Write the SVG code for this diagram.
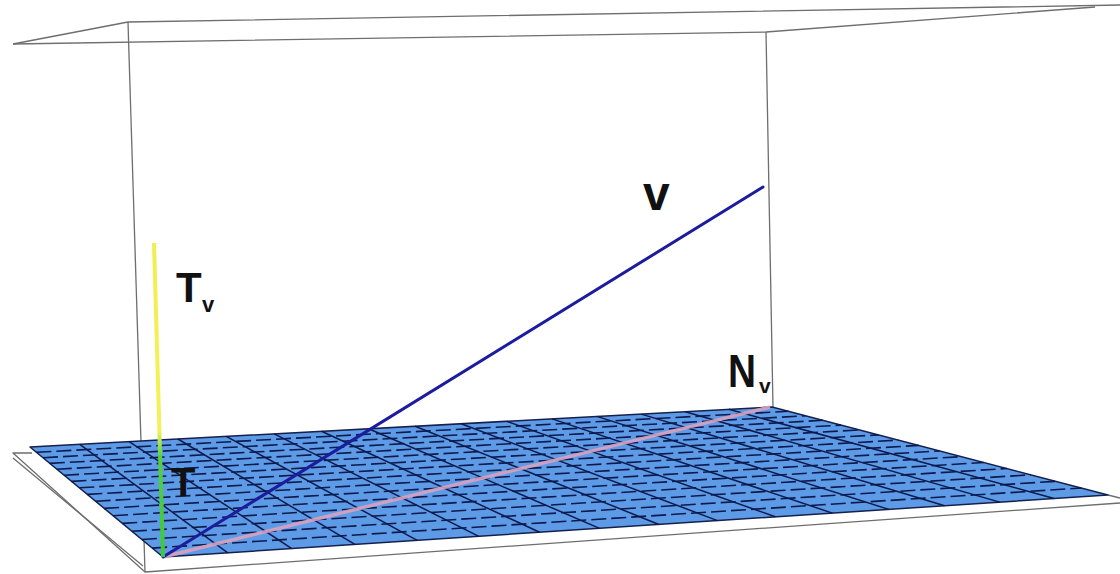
<svg xmlns="http://www.w3.org/2000/svg" width="1120" height="574" viewBox="0 0 1120 574">
<style>
.frame{fill:none;stroke:#6e6e6e;stroke-width:1.3;stroke-linejoin:round}
.pl{fill:#5d9be6;stroke:#14204e;stroke-width:1.5;stroke-linejoin:round}
.mu{stroke:#0c1a4e;stroke-width:1.5;fill:none}
.mv{stroke:#0c1a4e;stroke-width:1.6;fill:none;stroke-dasharray:15 5}
.lbl{font-family:"Liberation Sans",Arial,sans-serif;font-weight:bold;fill:#111}
</style>
<defs>
<linearGradient id="tg" gradientUnits="userSpaceOnUse" x1="0" y1="243" x2="0" y2="557">
<stop offset="0" stop-color="#f0ee50"/>
<stop offset="0.6" stop-color="#f4f25a"/>
<stop offset="0.68" stop-color="#55d040"/>
<stop offset="1" stop-color="#3cc83c"/>
</linearGradient>
</defs>
<rect width="1120" height="574" fill="#ffffff"/>
<g id="box">
<polyline class="frame" points="13,44 128,22 1120,5"/>
<polyline class="frame" points="13,44 766,32 1095,7"/>
<line class="frame" x1="128" y1="22" x2="145" y2="572"/>
<line class="frame" x1="766" y1="32" x2="773" y2="407"/>
<polyline class="frame" points="32,453 13,453 145,572 1120,503"/>
<line class="frame" x1="13" y1="458" x2="143" y2="566"/>
<line class="frame" x1="1108" y1="495" x2="1120" y2="498"/>
</g>
<g id="plane">
<polygon class="pl" points="163,557 1108,495 772,407 30,447"/>
<g>
<line class="mu" x1="227.8" y1="552.8" x2="79.8" y2="444.3"/>
<line class="mu" x1="291.8" y1="548.6" x2="129.1" y2="441.7"/>
<line class="mu" x1="354.9" y1="544.4" x2="177.9" y2="439.0"/>
<line class="mu" x1="417.2" y1="540.3" x2="226.3" y2="436.4"/>
<line class="mu" x1="478.8" y1="536.3" x2="274.2" y2="433.8"/>
<line class="mu" x1="539.6" y1="532.3" x2="321.6" y2="431.3"/>
<line class="mu" x1="599.6" y1="528.4" x2="368.6" y2="428.8"/>
<line class="mu" x1="658.9" y1="524.5" x2="415.1" y2="426.2"/>
<line class="mu" x1="717.5" y1="520.6" x2="461.2" y2="423.8"/>
<line class="mu" x1="775.3" y1="516.8" x2="506.8" y2="421.3"/>
<line class="mu" x1="832.4" y1="513.1" x2="552.1" y2="418.9"/>
<line class="mu" x1="888.9" y1="509.4" x2="596.9" y2="416.4"/>
<line class="mu" x1="944.6" y1="505.7" x2="641.3" y2="414.1"/>
<line class="mu" x1="999.7" y1="502.1" x2="685.2" y2="411.7"/>
<line class="mu" x1="1054.2" y1="498.5" x2="728.8" y2="409.3"/>
</g>
<g>
<line class="mv" x1="152.2" y1="548.1" x2="1081.4" y2="488.0"/>
<line class="mv" x1="141.9" y1="539.5" x2="1055.7" y2="481.3"/>
<line class="mv" x1="131.9" y1="531.3" x2="1030.9" y2="474.8"/>
<line class="mv" x1="122.3" y1="523.4" x2="1006.9" y2="468.5"/>
<line class="mv" x1="113.1" y1="515.7" x2="983.8" y2="462.5"/>
<line class="mv" x1="104.2" y1="508.4" x2="961.4" y2="456.6"/>
<line class="mv" x1="95.6" y1="501.3" x2="939.7" y2="450.9"/>
<line class="mv" x1="87.3" y1="494.4" x2="918.7" y2="445.4"/>
<line class="mv" x1="79.3" y1="487.8" x2="898.4" y2="440.1"/>
<line class="mv" x1="71.5" y1="481.4" x2="878.6" y2="434.9"/>
<line class="mv" x1="64.1" y1="475.2" x2="859.5" y2="429.9"/>
<line class="mv" x1="56.8" y1="469.2" x2="841.0" y2="425.1"/>
<line class="mv" x1="49.8" y1="463.4" x2="823.0" y2="420.3"/>
<line class="mv" x1="43.0" y1="457.7" x2="805.5" y2="415.8"/>
<line class="mv" x1="36.4" y1="452.3" x2="788.5" y2="411.3"/>
</g>
</g>
<g id="connectors">
<line id="vec-Nv" x1="163" y1="557" x2="770" y2="407" stroke="#d9a2c0" stroke-width="3.5" stroke-opacity="0.9"/>
<line id="vec-v" x1="163" y1="557" x2="763" y2="187" stroke="#1c1c9e" stroke-width="3" stroke-linecap="round"/>
<line id="vec-T" x1="154" y1="243" x2="163" y2="557" stroke="url(#tg)" stroke-width="4"/>
</g>
<g id="label-v"><text class="lbl" x="643" y="210" font-size="48">v</text></g>
<g id="label-Tv"><text class="lbl" x="176" y="302" font-size="42">T</text><text class="lbl" x="202" y="312" font-size="22">v</text></g>
<g id="label-T"><text class="lbl" x="171" y="496" font-size="40">T</text></g>
<g id="label-Nv"><text class="lbl" x="728" y="387" font-size="46" textLength="28" lengthAdjust="spacingAndGlyphs">N</text><text class="lbl" x="759" y="393" font-size="21">v</text></g>
</svg>
